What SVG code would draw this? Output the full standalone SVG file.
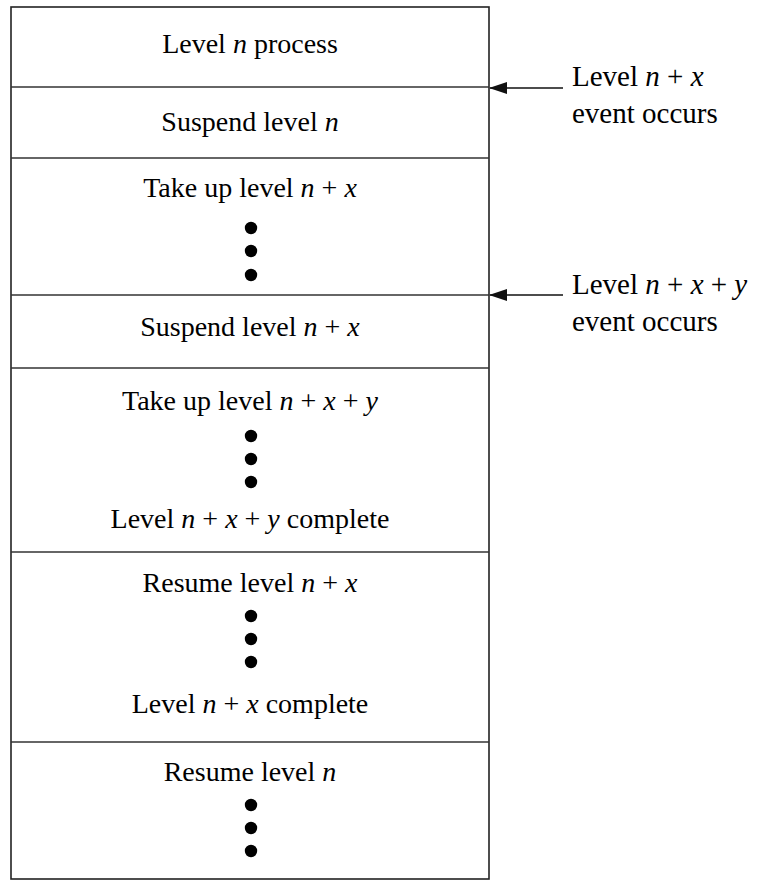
<svg xmlns="http://www.w3.org/2000/svg" width="757" height="881" viewBox="0 0 757 881">
  <style>
    text { font-family: "Liberation Serif", "Times New Roman", serif; font-size: 28px; fill: #000; }
    .c { text-anchor: middle; }
    .i { font-style: italic; }
    .side { font-size: 29px; }
    .frame { fill: #fff; stroke: #222; stroke-width: 1.6; }
    .div { stroke: #333; stroke-width: 1.6; }
    .arrow { stroke: #111; stroke-width: 1.6; fill: none; marker-end: url(#head); }
  </style>
  <defs>
    <marker id="head" markerWidth="18" markerHeight="12" refX="17" refY="6" orient="auto" markerUnits="userSpaceOnUse">
      <path d="M0,0 L18,6 L0,12 Z" fill="#111"/>
    </marker>
    <circle id="dot" r="6.2" fill="#000"/>
  </defs>
  <rect width="757" height="881" fill="#fff"/>

  <!-- outer frame and section dividers -->
  <rect class="frame" x="11" y="7" width="478" height="872"/>
  <g id="dividers">
    <line class="div" x1="11" y1="87" x2="489" y2="87"/>
    <line class="div" x1="11" y1="158" x2="489" y2="158"/>
    <line class="div" x1="11" y1="295" x2="489" y2="295"/>
    <line class="div" x1="11" y1="368" x2="489" y2="368"/>
    <line class="div" x1="11" y1="552" x2="489" y2="552"/>
    <line class="div" x1="11" y1="742" x2="489" y2="742"/>
  </g>

  <g id="level-n-process">
    <text class="c" x="250" y="53">Level <tspan class="i">n</tspan> process</text>
  </g>
  <g id="suspend-n">
    <text class="c" x="250" y="131">Suspend level <tspan class="i">n</tspan></text>
  </g>
  <g id="take-up-nx">
    <text class="c" x="250" y="197">Take up level <tspan class="i">n</tspan> + <tspan class="i">x</tspan></text>
    <use href="#dot" x="251" y="228"/>
    <use href="#dot" x="251" y="251"/>
    <use href="#dot" x="251" y="275"/>
  </g>
  <g id="suspend-nx">
    <text class="c" x="250" y="336">Suspend level <tspan class="i">n</tspan> + <tspan class="i">x</tspan></text>
  </g>
  <g id="take-up-nxy">
    <text class="c" x="250" y="410">Take up level <tspan class="i">n</tspan> + <tspan class="i">x</tspan> + <tspan class="i">y</tspan></text>
    <use href="#dot" x="251" y="436"/>
    <use href="#dot" x="251" y="459"/>
    <use href="#dot" x="251" y="482"/>
    <text class="c" x="250" y="528">Level <tspan class="i">n</tspan> + <tspan class="i">x</tspan> + <tspan class="i">y</tspan> complete</text>
  </g>
  <g id="resume-nx">
    <text class="c" x="250" y="592">Resume level <tspan class="i">n</tspan> + <tspan class="i">x</tspan></text>
    <use href="#dot" x="251" y="616"/>
    <use href="#dot" x="251" y="639"/>
    <use href="#dot" x="251" y="662"/>
    <text class="c" x="250" y="713">Level <tspan class="i">n</tspan> + <tspan class="i">x</tspan> complete</text>
  </g>
  <g id="resume-n">
    <text class="c" x="250" y="781">Resume level <tspan class="i">n</tspan></text>
    <use href="#dot" x="251" y="805"/>
    <use href="#dot" x="251" y="828"/>
    <use href="#dot" x="251" y="851"/>
  </g>

  <g id="event-nx">
    <text class="side" x="572" y="86">Level <tspan class="i">n</tspan> + <tspan class="i">x</tspan></text>
    <text class="side" x="572" y="123">event occurs</text>
  </g>
  <g id="event-nxy">
    <text class="side" x="572" y="294">Level <tspan class="i">n</tspan> + <tspan class="i">x</tspan> + <tspan class="i">y</tspan></text>
    <text class="side" x="572" y="331">event occurs</text>
  </g>

  <g id="connectors">
    <line class="arrow" x1="563" y1="88" x2="490" y2="88"/>
    <line class="arrow" x1="563" y1="295" x2="490" y2="295"/>
  </g>
</svg>
